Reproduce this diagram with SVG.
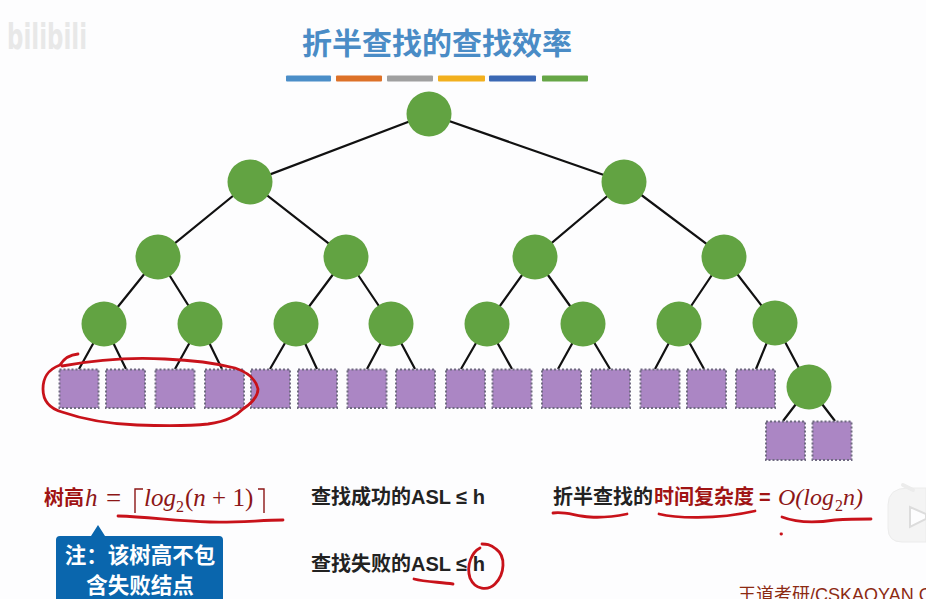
<svg xmlns="http://www.w3.org/2000/svg" width="926" height="599" viewBox="0 0 926 599">
<style>
.e{stroke:#111;stroke-width:2.2;fill:none}
.n{fill:#62a342}
.s{fill:#ab86c4;stroke:#6f6a80;stroke-width:2;stroke-dasharray:2 2}
.ink{fill:none;stroke:#c8121a;stroke-width:2.8;stroke-linecap:round;stroke-linejoin:round}
.cjk{font-family:"Liberation Sans","Noto Sans CJK SC",sans-serif;font-weight:700}
.math{font-family:"Liberation Serif","Noto Sans CJK SC",serif;font-style:italic;fill:#8c1616}
.up{font-family:"Liberation Serif",serif;fill:#8c1616}
.bk{font-size:20px;fill:#222}
.rd{font-size:20px;fill:#a01414}
</style>
<rect width="926" height="599" fill="#fdfdfe"/>
<g id="watermark"><text x="7" y="49" font-family="'DejaVu Sans',sans-serif" font-weight="700" font-size="36" fill="#e8e8e8" textLength="80" lengthAdjust="spacingAndGlyphs">bilibili</text></g>
<g id="title"><text x="437" y="54" text-anchor="middle" class="cjk" font-size="30" fill="#4a8cc6">折半查找的查找效率</text></g>
<g id="title-bars">
<rect x="286" y="75.500" width="45" height="6" rx="1" fill="#4b8ec8"/>
<rect x="336" y="75.500" width="46" height="6" rx="1" fill="#dd7128"/>
<rect x="387" y="75.500" width="46" height="6" rx="1" fill="#a0a0a0"/>
<rect x="438" y="75.500" width="47" height="6" rx="1" fill="#f2b01e"/>
<rect x="489" y="75.500" width="47" height="6" rx="1" fill="#3b68b4"/>
<rect x="542" y="75.500" width="46" height="6" rx="1" fill="#66a646"/>
</g>
<g id="connectors">
<path class="e" d="M429 114L250 182M429 114L624 182M250 182L158 257M250 182L346 257M624 182L535 257M624 182L724 257M158 257L104 324M158 257L200 324M346 257L296 324M346 257L391 324M535 257L487 324M535 257L583 324M724 257L679 324M724 257L775 323M775 323L809 387"/>
<path class="e" d="M104 324L79 369M104 324L126 369M200 324L175 369M200 324L222 369M296 324L270 369M296 324L317 369M391 324L367 369M391 324L415 369M487 324L461 369M487 324L512 369M583 324L558 369M583 324L610 369M679 324L655 369M679 324L704 369M775 323L756 369M809 387L783 421M809 387L835 421"/>
</g>
<g id="node-root"><circle class="n" cx="429" cy="114" r="22.500"/></g>
<g id="node-l2-1"><circle class="n" cx="250" cy="182" r="22.500"/></g>
<g id="node-l2-2"><circle class="n" cx="624" cy="182" r="22.500"/></g>
<g id="node-l3-1"><circle class="n" cx="158" cy="257" r="22.500"/></g>
<g id="node-l3-2"><circle class="n" cx="346" cy="257" r="22.500"/></g>
<g id="node-l3-3"><circle class="n" cx="535" cy="257" r="22.500"/></g>
<g id="node-l3-4"><circle class="n" cx="724" cy="257" r="22.500"/></g>
<g id="node-l4-1"><circle class="n" cx="104" cy="324" r="22.500"/></g>
<g id="node-l4-2"><circle class="n" cx="200" cy="324" r="22.500"/></g>
<g id="node-l4-3"><circle class="n" cx="296" cy="324" r="22.500"/></g>
<g id="node-l4-4"><circle class="n" cx="391" cy="324" r="22.500"/></g>
<g id="node-l4-5"><circle class="n" cx="487" cy="324" r="22.500"/></g>
<g id="node-l4-6"><circle class="n" cx="583" cy="324" r="22.500"/></g>
<g id="node-l4-7"><circle class="n" cx="679" cy="324" r="22.500"/></g>
<g id="node-l4-8"><circle class="n" cx="775" cy="323" r="22.500"/></g>
<g id="node-l5-1"><circle class="n" cx="809" cy="387" r="22.500"/></g>
<g id="leaf-1"><rect class="s" x="59.500" y="369.500" width="39" height="38.500"/></g>
<g id="leaf-2"><rect class="s" x="106" y="369.500" width="39" height="38.500"/></g>
<g id="leaf-3"><rect class="s" x="155.500" y="369.500" width="39" height="38.500"/></g>
<g id="leaf-4"><rect class="s" x="205" y="369.500" width="39" height="38.500"/></g>
<g id="leaf-5"><rect class="s" x="251" y="369.500" width="39" height="38.500"/></g>
<g id="leaf-6"><rect class="s" x="298" y="369.500" width="39" height="38.500"/></g>
<g id="leaf-7"><rect class="s" x="347.500" y="369.500" width="39" height="38.500"/></g>
<g id="leaf-8"><rect class="s" x="396" y="369.500" width="39" height="38.500"/></g>
<g id="leaf-9"><rect class="s" x="446" y="369.500" width="39" height="38.500"/></g>
<g id="leaf-10"><rect class="s" x="492.500" y="369.500" width="39" height="38.500"/></g>
<g id="leaf-11"><rect class="s" x="542" y="369.500" width="39" height="38.500"/></g>
<g id="leaf-12"><rect class="s" x="591" y="369.500" width="39" height="38.500"/></g>
<g id="leaf-13"><rect class="s" x="640.500" y="369.500" width="39" height="38.500"/></g>
<g id="leaf-14"><rect class="s" x="687" y="369.500" width="39" height="38.500"/></g>
<g id="leaf-15"><rect class="s" x="736" y="369.500" width="39" height="38.500"/></g>
<g id="leaf-16"><rect class="s" x="766" y="421.500" width="39" height="38.500"/></g>
<g id="leaf-17"><rect class="s" x="812.500" y="421.500" width="39" height="38.500"/></g>
<g id="formula-h">
<text x="44" y="505" class="cjk rd">树高</text>
<text x="85" y="506" class="math" font-size="25">h</text>
<text x="106" y="507" class="up" font-size="27">=</text>
<path d="M135 513V489H143M258 489H264V513" fill="none" stroke="#8c1616" stroke-width="1.400"/>
<text x="144" y="506" class="math" font-size="25">log</text>
<text x="176" y="512" class="up" font-size="16">2</text>
<text x="185" y="506" class="up" font-size="25">(<tspan font-style="italic">n</tspan> + 1)</text>
</g>
<g id="note">
<path d="M60 536H91L98 525L105 536H219Q223 536 223 540V599H56V540Q56 536 60 536Z" fill="#0a66ad"/>
<text x="140" y="563" text-anchor="middle" class="cjk" font-size="21.500" fill="#fff">注：该树高不包</text>
<text x="140" y="593" text-anchor="middle" class="cjk" font-size="21.500" fill="#fff">含失败结点</text>
</g>
<g id="asl-success"><text x="311" y="504" class="cjk bk">查找成功的ASL ≤ h</text></g>
<g id="asl-fail"><text x="311" y="571" class="cjk bk">查找失败的ASL ≤ h</text></g>
<g id="complexity">
<text x="553" y="504" class="cjk bk">折半查找的</text>
<text x="654" y="504" class="cjk rd">时间复杂度</text>
<text x="759" y="504" class="cjk rd">=</text>
<text x="778" y="505" class="math" font-size="24">O(log</text>
<text x="835" y="511" class="up" font-size="16">2</text>
<text x="843" y="505" class="math" font-size="24">n)</text>
</g>
<g id="credit"><text x="738" y="601" font-family="'Liberation Sans','Noto Sans CJK SC',sans-serif" font-size="18" fill="#8c2a12">王道考研/CSKAOYAN.C</text></g>
<g id="play-badge" fill="none">
<path d="M926 488H908Q888 488 888 505V528Q888 542 902 542H926Z" fill="#f4f4f4" stroke="#ececec"/>
<path d="M903 485L913 490" stroke="#ececec" stroke-width="4" stroke-linecap="round"/>
<path d="M910 507V527L926 519V514Z" fill="#fdfdfe" stroke="#dcdcdc" stroke-width="2"/>
</g>
<g id="annotations">
<path class="ink" d="M78 354Q66 355 60 365C47 370 43 378 43 389C43 400 48 408 62 412C85 420 110 424 137 425C165 426 190 426 208 424C228 421 236 416 243 409C252 403 258 397 258 389C256 380 250 373 235 368C215 363 190 360 165 359C130 357 100 359 62 366"/>
<path class="ink" d="M118 516C150 517 175 521 210 522C235 523 262 520 283 520"/>
<path class="ink" d="M553 513C565 511 575 516 590 517C605 518 617 516 627 514"/>
<path class="ink" d="M659 514C675 518 715 520 755 511"/>
<path class="ink" d="M782 517C795 522 815 523 835 520C850 519 860 519 871 519"/>
<path class="ink" d="M781 534h.5"/>
<path class="ink" d="M414 579C425 582 440 582 453 584"/>
<path class="ink" d="M480 548C472 552 466 565 470 578C475 590 488 591 495 584C505 574 506 556 496 549C490 544 486 544 482 544"/>
</g>
</svg>
